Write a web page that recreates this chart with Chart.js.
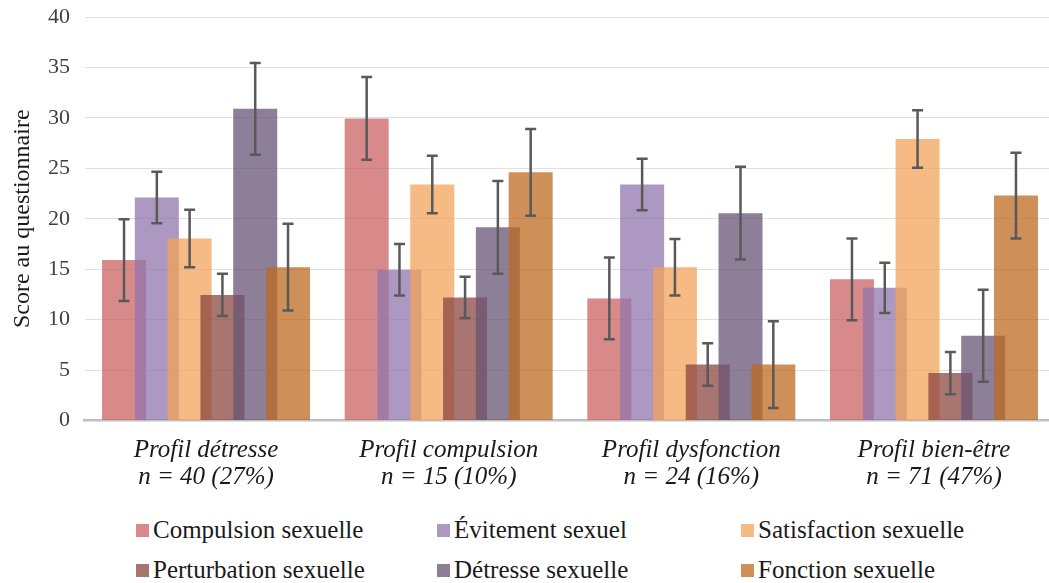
<!DOCTYPE html>
<html><head><meta charset="utf-8">
<script src="https://cdn.jsdelivr.net/npm/chart.js@4.4.1/dist/chart.umd.min.js"></script>
<style>
html,body{margin:0;padding:0;background:#fff;}
#wrap{position:relative;width:1049px;height:583px;overflow:hidden;background:#fff;}
#cv{position:absolute;left:0;top:0;}
.lg{position:absolute;height:28px;display:flex;align-items:center;font-family:'Liberation Serif','Times New Roman',Times,'DejaVu Serif',serif;font-size:25px;color:#1a1a1a;white-space:nowrap;}
.lg span.m{display:inline-block;width:13px;height:13px;margin-right:4px;}
</style></head>
<body>
<div id="wrap"><canvas id="cv" width="1062" height="505"></canvas></div>
<script>
const categories = [["Profil détresse","n = 40 (27%)"],["Profil compulsion","n = 15 (10%)"],["Profil dysfonction","n = 24 (16%)"],["Profil bien-être","n = 71 (47%)"]];
const seriesNames = ["Compulsion sexuelle","Évitement sexuel","Satisfaction sexuelle","Perturbation sexuelle","Détresse sexuelle","Fonction sexuelle"];
const compulsion   = [15.9, 29.95, 12.1, 14.0];
const evitement    = [22.1, 14.95, 23.4, 13.15];
const satisfaction = [18.05, 23.4, 15.2, 27.9];
const perturbation = [12.45, 12.2, 5.55, 4.7];
const detresse     = [30.9, 19.15, 20.55, 8.4];
const fonction     = [15.2, 24.6, 5.55, 22.3];
const errCompulsion   = [4.05, 4.1, 4.05, 4.05];
const errEvitement    = [2.55, 2.55, 2.55, 2.5];
const errSatisfaction = [2.85, 2.85, 2.8, 2.85];
const errPerturbation = [2.1, 2.05, 2.1, 2.1];
const errDetresse     = [4.55, 4.6, 4.6, 4.55];
const errFonction     = [4.3, 4.3, 4.3, 4.25];
const yTicks = [0,5,10,15,20,25,30,35,40];

const values = [compulsion, evitement, satisfaction, perturbation, detresse, fonction];
const errors = [errCompulsion, errEvitement, errSatisfaction, errPerturbation, errDetresse, errFonction];
const colors = ["rgba(203,99,100,0.75)","rgba(144,118,171,0.75)","rgba(243,163,91,0.75)","rgba(139,71,64,0.75)","rgba(103,84,118,0.75)","rgba(190,106,32,0.75)"];
const FONT = "'Liberation Serif', 'Times New Roman', Times, 'DejaVu Serif', serif";

const orderPlugin = {
  id: 'orderAndErrors',
  beforeDatasetDraw() { return false; },
  afterDatasetsDraw(chart) {
    const ctx = chart.ctx, a = chart.chartArea;
    ctx.save();
    ctx.beginPath(); ctx.rect(a.left, 0, a.right - a.left, a.bottom); ctx.clip();
    for (let i = 0; i < chart.data.datasets.length; i++) chart.getDatasetMeta(i).controller.draw();
    ctx.restore();
    const ys = chart.scales.y;
    ctx.save();
    ctx.strokeStyle = '#595959'; ctx.lineWidth = 2.5; ctx.lineCap = 'butt';
    for (let i = 0; i < chart.data.datasets.length; i++) {
      const meta = chart.getDatasetMeta(i);
      meta.data.forEach((el, j) => {
        const v = values[i][j], e = errors[i][j];
        const x = el.x, yt = ys.getPixelForValue(v + e), yb = ys.getPixelForValue(v - e);
        ctx.beginPath();
        ctx.moveTo(x, yt); ctx.lineTo(x, yb);
        ctx.moveTo(x - 5.5, yt); ctx.lineTo(x + 5.5, yt);
        ctx.moveTo(x - 5.5, yb); ctx.lineTo(x + 5.5, yb);
        ctx.stroke();
      });
    }
    ctx.restore();
  }
};

new Chart(document.getElementById('cv'), {
  type: 'bar',
  data: {
    labels: categories,
    datasets: seriesNames.map((n, i) => ({
      label: n, data: values[i], backgroundColor: colors[i], borderWidth: 0,
      categoryPercentage: 0.811, barPercentage: 1.341
    }))
  },
  options: {
    responsive: false, animation: false, devicePixelRatio: 1,
    layout: { padding: { left: 0, right: 6.7, top: 17, bottom: 0 } },
    plugins: { legend: { display: false }, tooltip: { enabled: false } },
    scales: {
      x: {
        grid: { display: false, drawTicks: false },
        border: { display: true, color: '#c0c0c0', width: 2.5 },
        ticks: { font: { family: FONT, size: 25, style: 'italic', lineHeight: 1.1 }, color: '#1a1a1a', padding: 16, maxRotation: 0, autoSkip: false },
        afterFit(s) { s.height = 84.5; s.paddingLeft = 0; s.paddingRight = 0; }
      },
      y: {
        min: 0, max: 40,
        afterBuildTicks(s) { s.ticks = yTicks.map(v => ({ value: v })); },
        ticks: { font: { family: FONT, size: 22 }, color: '#404040', padding: 14.7 },
        grid: { color: c => (c.tick && c.tick.value === 0) ? 'rgba(0,0,0,0)' : '#e0e0e0', lineWidth: 1, drawTicks: false },
        border: { display: false },
        title: { display: true, text: 'Score au questionnaire', font: { family: FONT, size: 24 }, color: '#1a1a1a', padding: { top: 8, bottom: 0 } },
        afterFit(s) { s.width = 84.7; s.paddingTop = 0; s.paddingBottom = 0; }
      }
    }
  },
  plugins: [orderPlugin]
});

const wrap = document.getElementById('wrap');
const colX = [136, 437, 741], rowY = [530, 570];
seriesNames.forEach((n, i) => {
  const d = document.createElement('div');
  d.className = 'lg';
  d.style.left = colX[i % 3] + 'px';
  d.style.top = (rowY[Math.floor(i / 3)] - 14) + 'px';
  const m = document.createElement('span'); m.className = 'm'; m.style.background = colors[i];
  d.appendChild(m);
  d.appendChild(document.createTextNode(n));
  wrap.appendChild(d);
});
</script>
</body></html>
